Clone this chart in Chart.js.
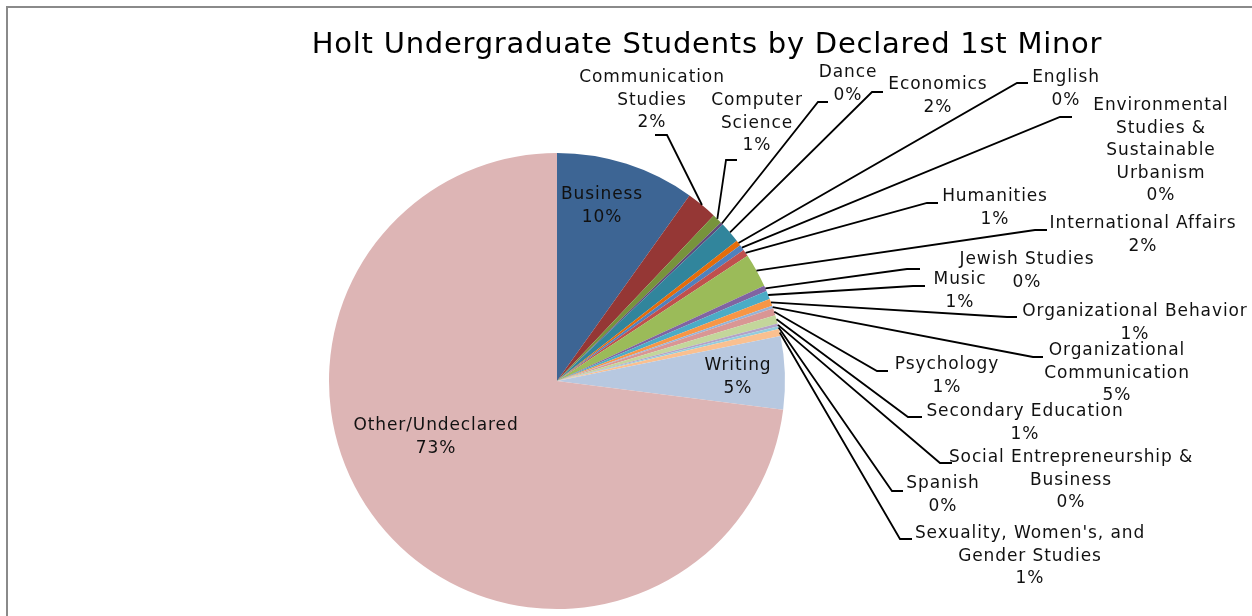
<!DOCTYPE html>
<html>
<head>
<meta charset="utf-8">
<script src="https://cdn.jsdelivr.net/npm/chart.js@4.4.0/dist/chart.umd.min.js"></script>
<style>
    html, body { margin: 0; padding: 0; background: #fff; overflow: hidden; }
    canvas { display: block; }
</style>
</head>
<body>
<canvas id="myChart" width="1252" height="616"></canvas>
<script>
// 데이터
const chartTitle = "Holt Undergraduate Students by Declared 1st Minor";
const minors = [
    "Business", "Communication Studies", "Computer Science", "Dance", "Economics",
    "English", "Environmental Studies & Sustainable Urbanism", "Humanities",
    "International Affairs", "Jewish Studies", "Music", "Organizational Behavior",
    "Organizational Communication", "Psychology", "Secondary Education",
    "Social Entrepreneurship & Business", "Spanish",
    "Sexuality, Women's, and Gender Studies", "Writing", "Other/Undeclared"
];
// 조각 크기 (그림에서 읽은 비율)
const shares = [9.9, 2.2, 0.7, 0.2, 1.5, 0.4, 0.4, 0.5, 2.4, 0.4, 0.6, 0.5, 0.2, 0.5, 0.6, 0.2, 0.2, 0.5, 5.2, 73.2];
// 데이터 레이블에 표시된 퍼센트
const shownPct = ["10%", "2%", "1%", "0%", "2%", "0%", "0%", "1%", "2%", "0%", "1%", "1%", "5%", "1%", "1%", "0%", "0%", "1%", "5%", "73%"];

const sliceColors = [
    "#3D6594", "#953735", "#77933C", "#604A7B", "#31859C", "#E46C0A", "#4F81BD", "#C0504D",
    "#9BBB59", "#8064A2", "#4BACC6", "#F79646", "#95B3D7", "#D99694", "#C3D69B", "#B3A2C7",
    "#93CDDD", "#FAC090", "#B7C8E0", "#DDB5B5"
];

// 레이블 위치 (x: 가운데, y: 첫 줄), elbow / end: 지시선 꺾임점
const labelSpots = [
    {x: 602, y: 195, wrap: 120},
    {x: 652, y: 78, wrap: 170, elbow: [667, 135], end: 655},
    {x: 757, y: 101, wrap: 120, elbow: [726, 160], end: 737},
    {x: 848, y: 73, wrap: 100, elbow: [818, 102], end: 828},
    {x: 938, y: 85, wrap: 130, elbow: [872, 92], end: 883},
    {x: 1066, y: 78, wrap: 100, elbow: [1017, 83], end: 1028},
    {x: 1161, y: 106, wrap: 160, elbow: [1060, 117], end: 1072},
    {x: 995, y: 197, wrap: 150, elbow: [927, 203], end: 938},
    {x: 1143, y: 224, wrap: 300, elbow: [1035, 230], end: 1047},
    {x: 1027, y: 260, wrap: 220, elbow: [907, 269], end: 920},
    {x: 960, y: 280, wrap: 100, elbow: [913, 286], end: 925},
    {x: 1135, y: 312, wrap: 320, elbow: [1007, 317], end: 1017},
    {x: 1117, y: 351, wrap: 180, elbow: [1033, 357], end: 1043},
    {x: 947, y: 365, wrap: 160, elbow: [877, 371], end: 888},
    {x: 1025, y: 412, wrap: 300, elbow: [908, 417], end: 922},
    {x: 1071, y: 458, wrap: 285, elbow: [940, 463], end: 952},
    {x: 943, y: 484, wrap: 110, elbow: [892, 491], end: 903},
    {x: 1030, y: 534, wrap: 265, elbow: [900, 539], end: 912},
    {x: 738, y: 366, wrap: 110},
    {x: 436, y: 426, wrap: 240}
];

const labelFont = "17px 'DejaVu Sans'";
const lineGap = 22.5;

function wrapText(ctx, text, maxW) {
    let words = text.split(" ");
    let lines = [];
    let cur = "";
    words.forEach((w) => {
        let test = cur ? cur + " " + w : w;
        if (cur && ctx.measureText(test).width > maxW) {
            lines.push(cur);
            cur = w;
        } else {
            cur = test;
        }
    });
    if (cur) lines.push(cur);
    return lines;
}

// 테두리 + 제목
const framePlugin = {
    id: "frame",
    beforeDraw(chart) {
        const ctx = chart.ctx;
        ctx.save();
        ctx.fillStyle = "#fff";
        ctx.fillRect(0, 0, chart.width, chart.height);
        ctx.strokeStyle = "#8a8a8a";
        ctx.lineWidth = 2;
        ctx.beginPath();
        ctx.moveTo(7, chart.height + 5);
        ctx.lineTo(7, 7);
        ctx.lineTo(chart.width + 5, 7);
        ctx.stroke();
        ctx.fillStyle = "#000";
        ctx.font = "29px 'DejaVu Sans'";
        ctx.letterSpacing = "0.75px";
        ctx.textAlign = "center";
        ctx.textBaseline = "middle";
        ctx.fillText(chartTitle, 707, 45);
        ctx.restore();
    }
};

// 데이터 레이블 + 지시선
const labelPlugin = {
    id: "pieLabels",
    afterDatasetsDraw(chart) {
        const ctx = chart.ctx;
        const arcs = chart.getDatasetMeta(0).data;
        ctx.save();
        ctx.font = labelFont;
        ctx.letterSpacing = "0.9px";
        ctx.textAlign = "center";
        ctx.textBaseline = "middle";
        arcs.forEach((arc, i) => {
            const spot = labelSpots[i];
            if (spot.elbow) {
                const mid = (arc.startAngle + arc.endAngle) / 2;
                const sx = arc.x + Math.cos(mid) * arc.outerRadius;
                const sy = arc.y + Math.sin(mid) * arc.outerRadius;
                ctx.strokeStyle = "#000";
                ctx.lineWidth = 1.8;
                ctx.beginPath();
                ctx.moveTo(sx, sy);
                ctx.lineTo(spot.elbow[0], spot.elbow[1]);
                ctx.lineTo(spot.end, spot.elbow[1]);
                ctx.stroke();
            }
            let lines = wrapText(ctx, minors[i], spot.wrap);
            lines.push(shownPct[i]);
            ctx.fillStyle = "#111";
            lines.forEach((ln, k) => {
                ctx.fillText(ln, spot.x, spot.y + k * lineGap);
            });
        });
        ctx.restore();
    }
};

const myChart = new Chart(document.getElementById("myChart"), {
    type: "pie",
    data: {
        labels: minors,
        datasets: [{
            data: shares,
            backgroundColor: sliceColors,
            borderWidth: 0
        }]
    },
    options: {
        responsive: false,
        animation: false,
        layout: {
            padding: {left: 329, right: 467, top: 153, bottom: 7}
        },
        plugins: {
            legend: { display: false },
            tooltip: { enabled: false },
            title: { display: false }
        }
    },
    plugins: [framePlugin, labelPlugin]
});
</script>
</body>
</html>
